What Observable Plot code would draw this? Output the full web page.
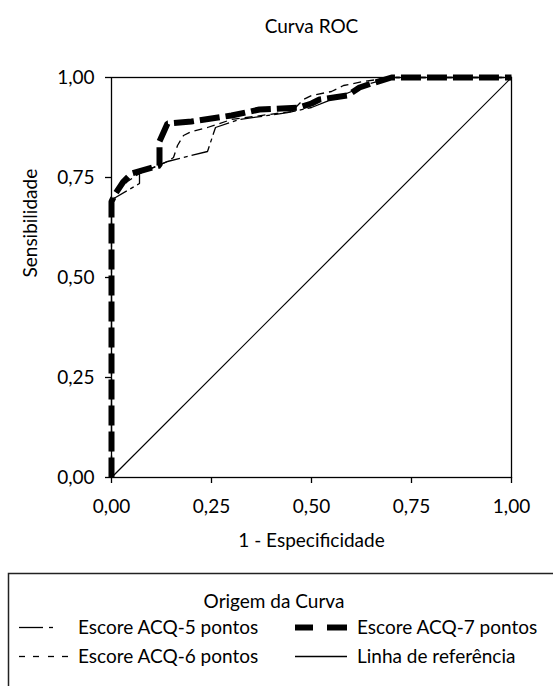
<!DOCTYPE html>
<html>
<head>
<meta charset="utf-8">
<script src="https://cdn.jsdelivr.net/npm/d3@7"></script>
<script src="https://cdn.jsdelivr.net/npm/@observablehq/plot@0.6"></script>
<style>
  html, body { margin: 0; padding: 0; background: #fff; }
  #wrap { position: relative; width: 553px; height: 686px; overflow: hidden; background: #fff; }
  #wrap svg { display: block; }
  #legend { position: absolute; left: 0; top: 0; }
</style>
</head>
<body>
<div id="wrap"></div>
<script>
// ---- Data ----
const titleText = "Curva ROC";
const xLabel = "1 - Especificidade";
const yLabel = "Sensibilidade";
const legendTitle = "Origem da Curva";
const seriesNames = ["Escore ACQ-5 pontos", "Escore ACQ-6 pontos", "Escore ACQ-7 pontos", "Linha de referência"];

const xTicks = [0, 0.25, 0.5, 0.75, 1];
const yTicks = [0, 0.25, 0.5, 0.75, 1];

const acq5X = [0, 0, 0.01, 0.07, 0.07, 0.14, 0.24, 0.26, 0.32, 0.44, 0.5, 0.55, 0.6, 0.63, 0.7, 1];
const acq5Y = [0, 0.68, 0.70, 0.735, 0.76, 0.79, 0.815, 0.875, 0.895, 0.912, 0.925, 0.945, 0.965, 0.98, 1, 1];

const acq6X = [0, 0, 0.01, 0.04, 0.07, 0.14, 0.155, 0.165, 0.18, 0.2, 0.24, 0.3, 0.45, 0.48, 0.5, 0.55, 0.58, 0.63, 0.7, 1];
const acq6Y = [0, 0.68, 0.71, 0.74, 0.76, 0.79, 0.80, 0.83, 0.855, 0.865, 0.875, 0.895, 0.915, 0.945, 0.955, 0.965, 0.98, 0.99, 1, 1];

const acq7X = [0, 0, 0.01, 0.03, 0.05, 0.12, 0.12, 0.14, 0.2, 0.3, 0.37, 0.47, 0.5, 0.52, 0.59, 0.62, 0.65, 0.7, 1];
const acq7Y = [0, 0.69, 0.71, 0.74, 0.76, 0.78, 0.84, 0.885, 0.89, 0.905, 0.92, 0.925, 0.935, 0.945, 0.955, 0.975, 0.985, 1, 1];

const refX = [0, 1];
const refY = [0, 1];

// ---- Build tables ----
const toRows = (xs, ys) => xs.map((x, i) => ({x, y: ys[i]}));
const acq5 = toRows(acq5X, acq5Y);
const acq6 = toRows(acq6X, acq6Y);
const acq7 = toRows(acq7X, acq7Y);
const ref = toRows(refX, refY);

const fmt = d => d3.format(".2f")(d).replace(".", ",");
const FONT = "Lato, 'Open Sans', sans-serif";

const chart = Plot.plot({
  width: 553,
  height: 560,
  marginLeft: 111,
  marginRight: 42,
  marginTop: 77,
  marginBottom: 83,
  x: {domain: [0, 1]},
  y: {domain: [0, 1]},
  style: {fontFamily: FONT, fontSize: "19px", color: "#000", background: "#fff", overflow: "visible"},
  marks: [
    Plot.line(ref, {x: "x", y: "y", stroke: "#000", strokeWidth: 1.2, strokeLinecap: "butt"}),
    Plot.line(acq5, {x: "x", y: "y", stroke: "#000", strokeWidth: 1.3, strokeDasharray: "22,4,4,4", strokeLinecap: "butt", strokeLinejoin: "miter"}),
    Plot.line(acq6, {x: "x", y: "y", stroke: "#000", strokeWidth: 1.3, strokeDasharray: "8,5", strokeLinecap: "butt", strokeLinejoin: "miter"}),
    Plot.line(acq7, {x: "x", y: "y", stroke: "#000", strokeWidth: 6, strokeDasharray: "20,6", strokeLinecap: "butt", strokeLinejoin: "miter"}),
    Plot.frame({stroke: "#000", strokeWidth: 1.3}),
    Plot.axisX({ticks: xTicks, tickFormat: fmt, tickSize: 6, tickPadding: 16, label: null, fontSize: 19, strokeWidth: 1.3}),
    Plot.axisY({ticks: yTicks, tickFormat: fmt, tickSize: 6, tickPadding: 11, label: null, fontSize: 19, strokeWidth: 1.3}),
    Plot.text([titleText], {frameAnchor: "top", dy: -45, lineAnchor: "bottom", fontSize: 19, fill: "#000"}),
    Plot.text([xLabel], {frameAnchor: "bottom", dy: 69, lineAnchor: "bottom", fontSize: 19, fill: "#000"}),
    Plot.text([yLabel], {frameAnchor: "left", dx: -81, rotate: -90, fontSize: 19, fill: "#000"})
  ]
});

const wrap = document.getElementById("wrap");
wrap.appendChild(chart);

// ---- Legend (below the chart) ----
const leg = d3.select(wrap).append("svg")
  .attr("id", "legend")
  .attr("width", 553).attr("height", 686)
  .style("font-family", FONT).style("font-size", "19px");

leg.append("rect")
  .attr("x", 8.5).attr("y", 573.5).attr("width", 620).attr("height", 200)
  .attr("fill", "none").attr("stroke", "#222").attr("stroke-width", 1.5);

leg.append("text").attr("x", 274).attr("y", 608).attr("text-anchor", "middle").attr("fill", "#000").text(legendTitle);

// each sample is a list of [x0, x1] segments
const items = [
  {name: seriesNames[0], segs: [[19, 43], [49, 53]], tx: 78, ty: 634, w: 1.3},
  {name: seriesNames[1], segs: [[19, 25], [33, 39], [48, 54], [62, 68]], tx: 78, ty: 663, w: 1.3},
  {name: seriesNames[2], segs: [[295, 313], [327, 347]], tx: 357, ty: 634, w: 6},
  {name: seriesNames[3], segs: [[295, 347]], tx: 357, ty: 663, w: 1.3}
];
for (const it of items) {
  const ly = it.ty - 6.5;
  for (const [a, b] of it.segs) {
    leg.append("line")
      .attr("x1", a).attr("x2", b).attr("y1", ly).attr("y2", ly)
      .attr("stroke", "#000").attr("stroke-width", it.w);
  }
  leg.append("text").attr("x", it.tx).attr("y", it.ty).attr("fill", "#000").text(it.name);
}
</script>
</body>
</html>
